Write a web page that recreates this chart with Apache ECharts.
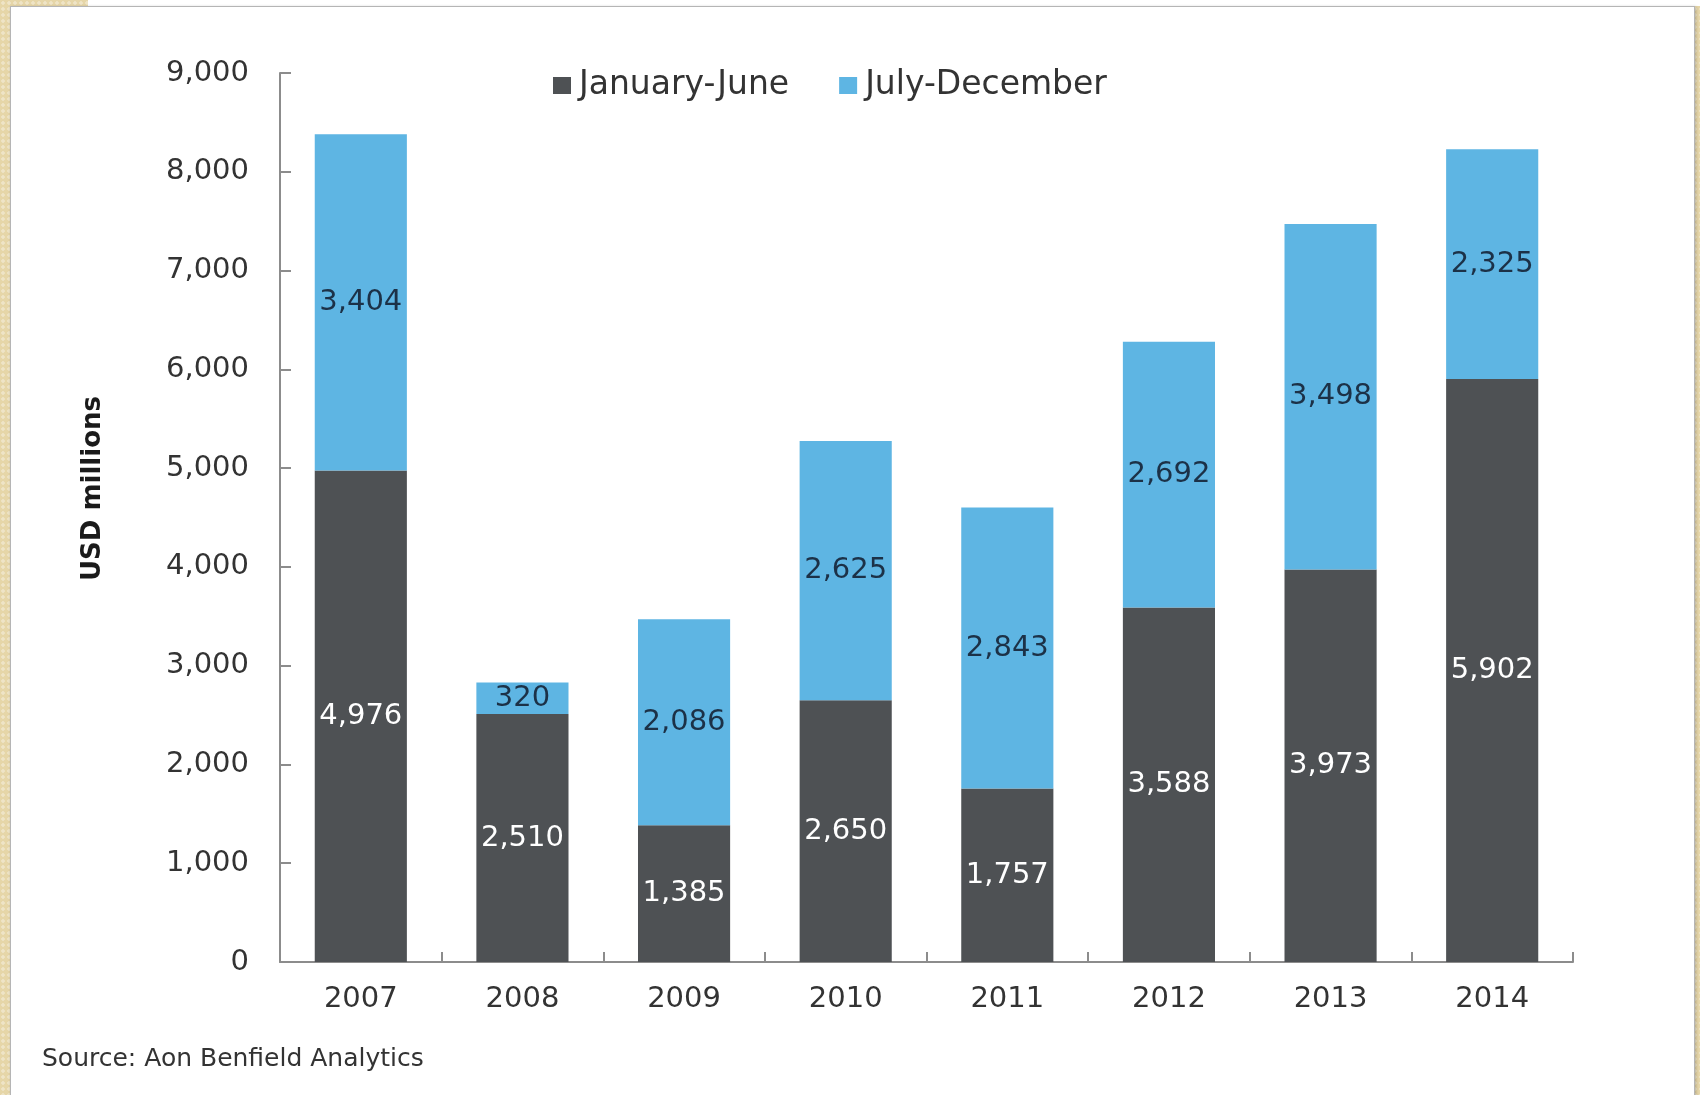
<!DOCTYPE html>
<html>
<head>
<meta charset="utf-8">
<script src="https://cdn.jsdelivr.net/npm/echarts@6/dist/echarts.min.js"></script>
<style>
  html, body { margin: 0; padding: 0; }
  body {
    width: 1700px; height: 1095px; position: relative; overflow: hidden;
    background-color: #e6d6a8;
    background-image: radial-gradient(rgba(255,255,255,0.35) 1.5px, transparent 2px);
    background-size: 6px 6px;
  }
  #topstrip { position: absolute; left: 88px; top: 0; width: 1612px; height: 6px; background: #ffffff; }
  #card {
    position: absolute; left: 10px; top: 6px; width: 1683px; height: 1100px;
    background: #ffffff; border: 1px solid #b5b5b5;
    box-shadow: 1px 1px 3px rgba(0,0,0,0.25);
  }
  #chart { position: absolute; left: 0; top: 0; width: 1700px; height: 1095px; }
</style>
</head>
<body>
<div id="topstrip"></div>
<div id="card"></div>
<div id="chart"></div>
<script>
// Catastrophe losses by half-year, USD millions
const years = ['2007', '2008', '2009', '2010', '2011', '2012', '2013', '2014'];
const janJun = [4976, 2510, 1385, 2650, 1757, 3588, 3973, 5902];
const julDec = [3404, 320, 2086, 2625, 2843, 2692, 3498, 2325];
const seriesNames = ['January-June', 'July-December'];

const FONT = 'DejaVu Sans';
const fmt = v => v.toLocaleString('en-US');

const chart = echarts.init(document.getElementById('chart'), null, { renderer: 'canvas' });

chart.setOption({
  backgroundColor: 'transparent',
  animation: false,
  textStyle: { fontFamily: FONT },
  legend: {
    data: seriesNames,
    left: 548,
    top: 64,
    itemWidth: 18,
    itemHeight: 17,
    itemGap: 50,
    icon: 'rect',
    textStyle: { fontFamily: FONT, fontSize: 33, color: '#333333', padding: [0, 0, 0, 3] }
  },
  grid: { left: 280, right: 127, top: 73, bottom: 133, containLabel: false },
  xAxis: {
    type: 'category',
    data: years,
    axisLine: { lineStyle: { color: '#8c8c8c', width: 2 } },
    axisTick: { show: true, inside: true, length: 10, lineStyle: { color: '#8c8c8c', width: 2 } },
    axisLabel: { margin: 23, fontFamily: FONT, fontSize: 29, color: '#333333' }
  },
  yAxis: {
    type: 'value',
    min: 0,
    max: 9000,
    interval: 1000,
    axisLine: { show: true, lineStyle: { color: '#8c8c8c', width: 2 } },
    axisTick: { show: true, inside: true, length: 11, lineStyle: { color: '#8c8c8c', width: 2 } },
    splitLine: { show: false },
    axisLabel: { margin: 31, fontFamily: FONT, fontSize: 29, color: '#333333', formatter: fmt }
  },
  graphic: [
    {
      type: 'text',
      left: 80,
      top: 396,
      rotation: Math.PI / 2,
      style: { text: 'USD millions', font: 'bold 26px "DejaVu Sans"', fill: '#1a1a1a' }
    },
    {
      type: 'text',
      left: 42,
      top: 1047,
      style: { text: 'Source: Aon Benfield Analytics', font: '25px "DejaVu Sans"', fill: '#333333' }
    }
  ],
  series: [
    {
      name: seriesNames[0],
      type: 'bar',
      stack: 'total',
      data: janJun,
      barWidth: '57%',
      itemStyle: { color: '#4e5154' },
      label: { show: true, position: 'inside', fontFamily: FONT, fontSize: 29, color: '#ffffff', formatter: p => fmt(p.value) }
    },
    {
      name: seriesNames[1],
      type: 'bar',
      stack: 'total',
      data: julDec,
      barWidth: '57%',
      itemStyle: { color: '#5eb5e3' },
      label: { show: true, position: 'inside', fontFamily: FONT, fontSize: 29, color: '#1c3147', formatter: p => fmt(p.value) }
    }
  ]
});
</script>
</body>
</html>
